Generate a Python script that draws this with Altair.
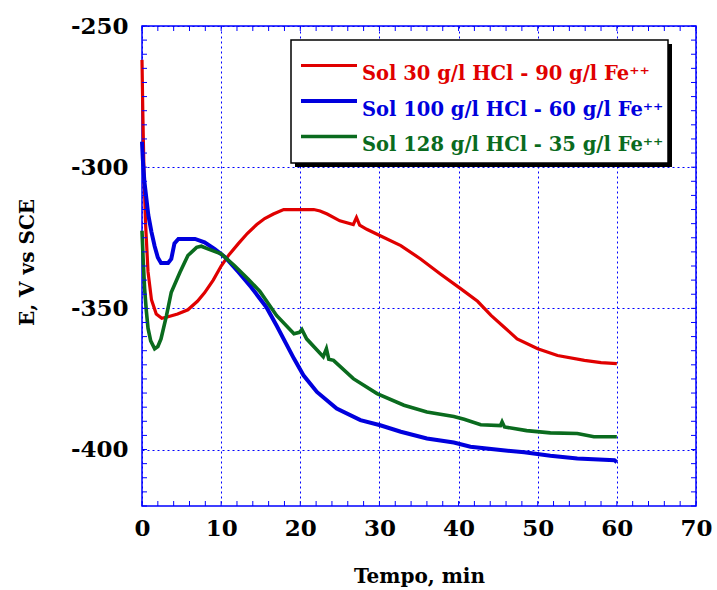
import altair as alt
import pandas as pd

# ---------------- data ----------------
t_red = [0, 0.1, 0.25, 0.45, 0.76, 1.2, 1.8, 2.5, 3.3, 4.5, 5.8, 7.0, 7.9, 9.0, 10.0,
         11.0, 12.2, 13.3, 14.5, 15.5, 16.6, 17.9, 19.5, 21.7, 22.5, 23.4, 25.0, 26.7,
         27.1, 27.5, 28.4, 30.1, 32.7, 35.2, 37.7, 40.3, 42.4, 44.1, 45.7, 47.4, 50.0,
         52.5, 55.9, 58.0, 60.0]
e_red = [-262, -280, -302, -320, -337, -347, -352, -353.5, -353, -352, -350.5, -347.5,
         -344.5, -340, -335, -331, -327, -323.5, -320.3, -318.2, -316.6, -315, -315, -315,
         -315.5, -316.6, -319, -320.3, -317.8, -320.5, -322, -324.3, -327.8, -332.5,
         -337.8, -343.1, -347.5, -352.5, -356.5, -360.8, -364.3, -366.7, -368.4, -369.2,
         -369.6]

t_blue = [0, 0.1, 0.3, 0.55, 0.8, 1.2, 1.6, 2.0, 2.4, 3.3, 3.7, 4.1, 4.6, 6.7, 7.9, 9.2,
          10.5, 12.2, 13.8, 14.9, 15.7, 17.0, 19.2, 20.4, 22.1, 24.6, 27.6, 30.1, 32.7,
          36.0, 39.4, 41.5, 45.3, 48.3, 51.6, 55.0, 59.7, 60.0]
e_blue = [-291, -297, -305, -311, -317, -323, -328, -332, -333.9, -333.9, -332.5, -327,
          -325.4, -325.4, -326.6, -329, -331.9, -337.2, -342.5, -346.6, -349.5, -356.1,
          -367.8, -373.7, -379.6, -385.5, -389.6, -391.4, -393.7, -396.1, -397.5, -399,
          -400.2, -401, -402.2, -403.2, -403.8, -404.5]

t_green = [0, 0.15, 0.33, 0.55, 0.76, 1.1, 1.6, 2.0, 2.4, 3.1, 3.7, 4.8, 5.8, 6.9, 7.5,
           8.4, 10.0, 11.7, 13.4, 14.9, 17.0, 19.2, 19.9, 20.2, 20.8, 22.9, 23.3, 23.6,
           24.2, 26.7, 29.7, 33.1, 36.0, 39.4, 40.7, 42.8, 45.3, 45.5, 45.8, 48.6, 51.6,
           55.0, 57.1, 60.0]
e_green = [-322.5, -333, -343, -351, -357, -361.5, -364.3, -363.5, -360.8, -352.5, -344.3,
           -337.2, -331.3, -328.4, -328, -329, -330.7, -334.9, -339.6, -344, -352.5, -359,
           -358.5, -357.5, -360.8, -367.1, -364.3, -368, -368.4, -374.9, -380.2, -384.3,
           -386.7, -388.3, -389.3, -391.2, -391.5, -390.2, -392, -393.3, -394.1, -394.3,
           -395.5, -395.5]

names = ["Sol 30 g/l HCl - 90 g/l Fe\u207a\u207a",
         "Sol 100 g/l HCl - 60 g/l Fe\u207a\u207a",
         "Sol 128 g/l HCl - 35 g/l Fe\u207a\u207a"]
colors = ["#e00000", "#0000dd", "#0a6b1e"]
widths = [3.2, 4, 3.6]

x_major = [0, 10, 20, 30, 40, 50, 60, 70]
y_major = [-400, -350, -300, -250]
x_minor = list(range(0, 71, 2))
y_minor = list(range(-420, -249, 5))

# ---------------- chart ----------------
W, H = 554, 480
FONT = "DejaVu Serif"
xscale = alt.Scale(domain=[0, 70], nice=False, zero=False)
yscale = alt.Scale(domain=[-420, -250], nice=False, zero=False)

xaxis = alt.Axis(values=x_major, title="Tempo, min", labelPadding=11,
                 labelExpr="toString(datum.value)", labelFlush=False,
                 titleY=76, titleBaseline="alphabetic", titleX=W / 2, titleAlign="center")
yaxis = alt.Axis(values=y_major, title="E, V vs SCE", labelPadding=14,
                 labelExpr="toString(datum.value)", labelFlush=False,
                 titleX=-109, titleY=236, titleBaseline="alphabetic", titleAlign="center",
                 titleAngle=270)
X = alt.X("t:Q", scale=xscale, axis=xaxis)
Y = alt.Y("E:Q", scale=yscale, axis=yaxis)

series = [(t_red, e_red), (t_blue, e_blue), (t_green, e_green)]
layers = []
for k, (ts, es) in enumerate(series):
    d = pd.DataFrame({"t": ts, "E": es, "i": list(range(len(ts)))})
    layers.append(
        alt.Chart(d).mark_line(color=colors[k], strokeWidth=widths[k]).encode(
            x=X, y=Y, order="i:Q")
    )

dxm = pd.DataFrame({"t": x_minor})
dym = pd.DataFrame({"E": y_minor})
tick_color = "#0000ff"
layers += [
    alt.Chart(dym).mark_rule(color=tick_color, strokeWidth=1).encode(
        y=Y, x=alt.value(0), x2=alt.value(5)),
    alt.Chart(dym).mark_rule(color=tick_color, strokeWidth=1).encode(
        y=Y, x=alt.value(W - 5), x2=alt.value(W)),
    alt.Chart(dxm).mark_rule(color=tick_color, strokeWidth=1).encode(
        x=X, y=alt.value(H - 5), y2=alt.value(H)),
    alt.Chart(dxm).mark_rule(color=tick_color, strokeWidth=1).encode(
        x=X, y=alt.value(0), y2=alt.value(5)),
]

one = pd.DataFrame({"k": [0]})
layers.append(alt.Chart(one).mark_rect(color="black").encode(
    x=alt.value(153), x2=alt.value(530), y=alt.value(18), y2=alt.value(141)))
layers.append(alt.Chart(one).mark_rect(fill="white", stroke="black", strokeWidth=1.5).encode(
    x=alt.value(149), x2=alt.value(526), y=alt.value(14), y2=alt.value(137)))

for k in range(3):
    ly = 39.5 + 35.5 * k
    layers.append(alt.Chart(one).mark_rule(color=colors[k], strokeWidth=widths[k]).encode(
        x=alt.value(159), x2=alt.value(215), y=alt.value(ly)))
    layers.append(alt.Chart(one).mark_text(
        align="left", baseline="alphabetic", font=FONT, fontWeight="bold",
        fontSize=19.5, color=colors[k]).encode(
        x=alt.value(220), y=alt.value(ly + 14.5), text=alt.value(names[k])))

chart = alt.layer(*layers).properties(
    width=W, height=H,
    autosize=alt.AutoSizeParams(type="none"),
    padding={"left": 142, "top": 26, "right": 21, "bottom": 84},
    background="white",
).configure_view(
    stroke="#0000ff", strokeWidth=1.5
).configure_axis(
    domain=False, ticks=False,
    grid=True, gridColor="#0000ff", gridDash=[2, 3], gridWidth=1, gridOpacity=1,
    labelFont=FONT, labelFontWeight="bold", labelFontSize=23, labelColor="black",
    titleFont=FONT, titleFontWeight="bold", titleFontSize=20, titleColor="black",
)

chart.save("out.html", embed_options={"renderer": "svg", "actions": False})
